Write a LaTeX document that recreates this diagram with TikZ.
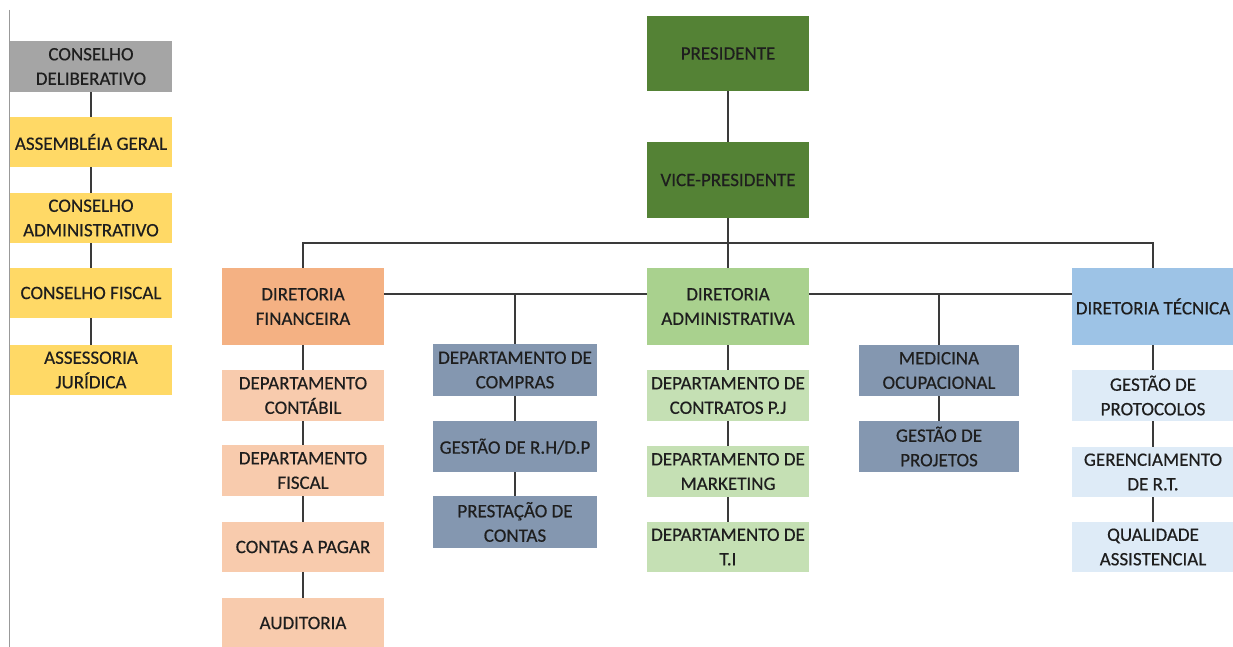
\documentclass[tikz,border=0pt]{standalone}
\usepackage{fontspec}
\setmainfont{Carlito}
\newfontfamily\orgfont{Carlito}[FakeBold=0.4]
\definecolor{cGrey}{HTML}{A5A5A5}
\definecolor{cYellow}{HTML}{FFD966}
\definecolor{cDarkGreen}{HTML}{548235}
\definecolor{cOrange}{HTML}{F4B183}
\definecolor{cLightOrange}{HTML}{F8CBAD}
\definecolor{cSlate}{HTML}{8497B0}
\definecolor{cGreen}{HTML}{A9D18E}
\definecolor{cLightGreen}{HTML}{C5E0B4}
\definecolor{cBlue}{HTML}{9DC3E6}
\definecolor{cLightBlue}{HTML}{DEEBF7}
\definecolor{cText}{HTML}{1E1E1E}
\definecolor{cLine}{HTML}{3A3A3A}
\begin{document}
\begin{tikzpicture}[x=1pt,y=-1pt,
  orgbox/.style={draw=none, inner sep=0pt, align=center, text=cText,
    font=\orgfont\fontsize{19}{24.5}\selectfont, minimum width=162pt, minimum height=51pt},
  tall/.style={minimum height=77pt},
  link/.style={draw=cLine, line width=1.4pt}]
\useasboundingbox (0,0) rectangle (1233,647);
\fill[white] (0,0) rectangle (1233,647);
% page edge rule on the left
\coordinate (edgeTop) at (9,10);
\coordinate (edgeBot) at (9,647);
\draw[color=gray!80, line width=1pt] (edgeTop) -- (edgeBot);

% councils column
\node[orgbox, fill=cGrey] (cd) at (91,66.5) {CONSELHO\\DELIBERATIVO};
\node[orgbox, fill=cYellow, minimum height=50pt] (ag) at (91,142) {ASSEMBLÉIA GERAL};
\node[orgbox, fill=cYellow, minimum height=50pt] (ca) at (91,218) {CONSELHO\\ADMINISTRATIVO};
\node[orgbox, fill=cYellow, minimum height=50pt] (cf) at (91,293) {CONSELHO FISCAL};
\node[orgbox, fill=cYellow, minimum height=50pt] (aj) at (91,370) {ASSESSORIA\\JURÍDICA};

% top management
\node[orgbox, fill=cDarkGreen, minimum height=75pt] (pres) at (728,53.5) {PRESIDENTE};
\node[orgbox, fill=cDarkGreen, minimum height=76pt] (vice) at (728,180) {VICE-PRESIDENTE};

% directorates
\node[orgbox, tall, fill=cOrange] (fin) at (303,306.5) {DIRETORIA\\FINANCEIRA};
\node[orgbox, tall, fill=cGreen] (adm) at (728,306.5) {DIRETORIA\\ADMINISTRATIVA};
\node[orgbox, tall, fill=cBlue] (tec) at (1153,306.5) {DIRETORIA TÉCNICA};

% financial departments
\node[orgbox, fill=cLightOrange] (contab) at (303,395.5) {DEPARTAMENTO\\CONTÁBIL};
\node[orgbox, fill=cLightOrange] (fisc) at (303,470.5) {DEPARTAMENTO\\FISCAL};
\node[orgbox, fill=cLightOrange, minimum height=50pt] (pagar) at (303,547) {CONTAS A PAGAR};
\node[orgbox, fill=cLightOrange, minimum height=50pt] (aud) at (303,623) {AUDITORIA};

% purchasing branch
\node[orgbox, fill=cSlate, minimum width=164pt, minimum height=52pt] (compras) at (515,370) {DEPARTAMENTO DE\\COMPRAS};
\node[orgbox, fill=cSlate, minimum width=164pt] (rh) at (515,446.5) {GESTÃO DE R.H/D.P};
\node[orgbox, fill=cSlate, minimum width=164pt, minimum height=52pt] (prest) at (515,522) {PRESTAÇÃO DE\\CONTAS};

% administrative departments
\node[orgbox, fill=cLightGreen] (contr) at (728,395.5) {DEPARTAMENTO DE\\CONTRATOS P.J};
\node[orgbox, fill=cLightGreen] (mkt) at (728,471.5) {DEPARTAMENTO DE\\MARKETING};
\node[orgbox, fill=cLightGreen, minimum height=50pt] (ti) at (728,547) {DEPARTAMENTO DE\\T.I};

% occupational branch
\node[orgbox, fill=cSlate, minimum width=160pt] (med) at (939,370.5) {MEDICINA\\OCUPACIONAL};
\node[orgbox, fill=cSlate, minimum width=160pt] (proj) at (939,446.5) {GESTÃO DE\\PROJETOS};

% technical departments
\node[orgbox, fill=cLightBlue] (prot) at (1153,395.5) {GESTÃO DE\\PROTOCOLOS};
\node[orgbox, fill=cLightBlue, minimum height=50pt] (ger) at (1153,472) {GERENCIAMENTO\\DE R.T.};
\node[orgbox, fill=cLightBlue, minimum height=50pt] (qual) at (1153,547) {QUALIDADE\\ASSISTENCIAL};

% helper levels for the connector rails
\coordinate (bus) at (728,243);
\coordinate (rail) at (728,294);

% connectors
\draw[link] (cd) -- (ag);
\draw[link] (ag) -- (ca);
\draw[link] (ca) -- (cf);
\draw[link] (cf) -- (aj);

\draw[link] (pres) -- (vice);
\draw[link] (vice) -- (adm);
\draw[link] (fin.north) -- (fin.north |- bus) -- (tec.north |- bus) -- (tec.north);
\draw[link] (fin.east |- rail) -- (adm.west |- rail);
\draw[link] (adm.east |- rail) -- (tec.west |- rail);
\draw[link] (compras.north |- rail) -- (compras.north);
\draw[link] (med.north |- rail) -- (med.north);

\draw[link] (fin) -- (contab);
\draw[link] (contab) -- (fisc);
\draw[link] (fisc) -- (pagar);
\draw[link] (pagar) -- (aud);

\draw[link] (compras) -- (rh);
\draw[link] (rh) -- (prest);

\draw[link] (adm) -- (contr);
\draw[link] (contr) -- (mkt);
\draw[link] (mkt) -- (ti);

\draw[link] (med) -- (proj);

\draw[link] (tec) -- (prot);
\draw[link] (prot) -- (ger);
\draw[link] (ger) -- (qual);
\end{tikzpicture}
\end{document}
